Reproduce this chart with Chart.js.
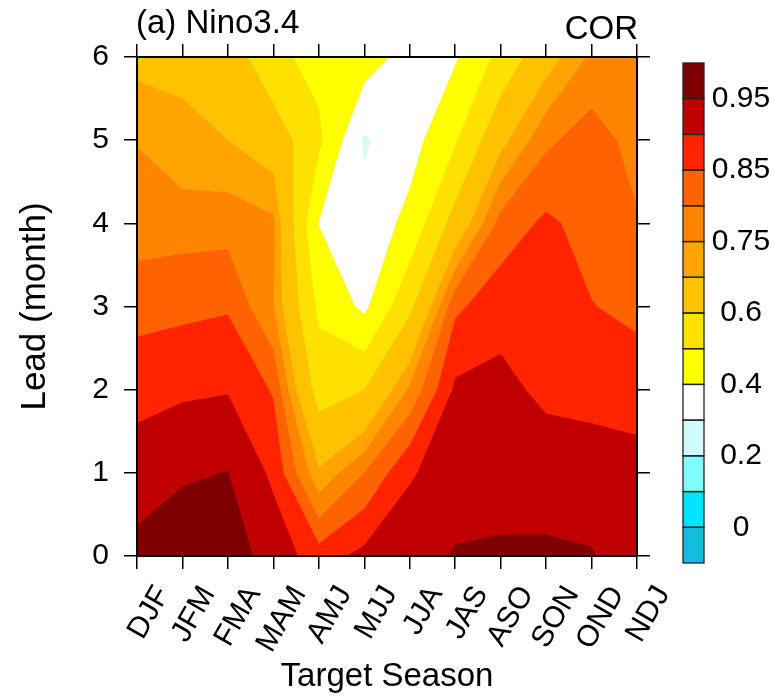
<!DOCTYPE html>
<html lang="en">
<head>
  <meta charset="UTF-8" />
  <title>Nino3.4 COR</title>
  <script src="https://cdn.jsdelivr.net/npm/chart.js"></script>
  <style>
    html, body { margin: 0; padding: 0; background: #fff; }
  </style>
</head>
<body>

<canvas id="corChart" width="784" height="697"></canvas>

<script>
  const seasons = ['DJF', 'JFM', 'FMA', 'MAM', 'AMJ', 'MJJ', 'JJA', 'JAS', 'ASO', 'SON', 'OND', 'NDJ'];
  const leads = [0, 1, 2, 3, 4, 5, 6];

  // correlation skill per target season, one row per lead month
  const corLead0 = [0.960, 0.975, 0.975, 0.930, 0.875, 0.915, 0.930, 0.954, 0.957, 0.957, 0.953, 0.930];
  const corLead1 = [0.933, 0.945, 0.951, 0.890, 0.710, 0.800, 0.895, 0.925, 0.930, 0.930, 0.925, 0.915];
  const corLead2 = [0.878, 0.892, 0.897, 0.845, 0.560, 0.600, 0.760, 0.910, 0.915, 0.888, 0.883, 0.882];
  const corLead3 = [0.834, 0.838, 0.845, 0.752, 0.480, 0.380, 0.580, 0.840, 0.880, 0.875, 0.852, 0.835];
  const corLead4 = [0.772, 0.778, 0.780, 0.760, 0.398, 0.330, 0.430, 0.640, 0.820, 0.860, 0.830, 0.805];
  const corLead5 = [0.748, 0.710, 0.700, 0.660, 0.520, 0.290, 0.360, 0.490, 0.680, 0.790, 0.825, 0.780];
  const corLead6 = [0.681, 0.690, 0.660, 0.524, 0.470, 0.450, 0.360, 0.390, 0.530, 0.670, 0.760, 0.770];

  const contourLevels = [0, 0.1, 0.2, 0.3, 0.4, 0.5, 0.6, 0.7, 0.75, 0.8, 0.85, 0.9, 0.95];
  const barLabels = ['0', '', '0.2', '', '0.4', '', '0.6', '', '0.75', '', '0.85', '', '0.95'];
  const fillColors = [
    '#12bcdc', '#00e3ff', '#80fdfd', '#d2fbfb', '#ffffff', '#ffff00', '#ffe100',
    '#ffc200', '#ffa400', '#ff8500', '#ff6200', '#ff2300', '#c00000', '#7e0000'
  ];

  const panelTitle = '(a) Nino3.4';
  const statName = 'COR';
  const FONT = "'Liberation Sans', Arial, Helvetica, sans-serif";

  const corRows = [corLead0, corLead1, corLead2, corLead3, corLead4, corLead5, corLead6];

  // part of a grid cell where value >= lv, cut along the cell edges
  // (points are [season, lead, value])
  function clipAbove(poly, lv) {
    const out = [];
    for (let n = 0; n < poly.length; n++) {
      const p = poly[n], q = poly[(n + 1) % poly.length];
      const pin = p[2] >= lv, qin = q[2] >= lv;
      if (pin) out.push(p);
      if (pin !== qin) {
        const t = (lv - p[2]) / (q[2] - p[2]);
        out.push([p[0] + t * (q[0] - p[0]), p[1] + t * (q[1] - p[1]), lv]);
      }
    }
    return out;
  }

  function gridCells() {
    const cells = [];
    for (let j = 0; j < leads.length - 1; j++) {
      for (let i = 0; i < seasons.length - 1; i++) {
        cells.push([
          [i, leads[j], corRows[j][i]],
          [i + 1, leads[j], corRows[j][i + 1]],
          [i + 1, leads[j + 1], corRows[j + 1][i + 1]],
          [i, leads[j + 1], corRows[j + 1][i]]
        ]);
      }
    }
    return cells;
  }

  const contourFill = {
    id: 'contourFill',
    beforeDatasetsDraw(chart) {
      const { ctx, chartArea: area, scales: { x, y } } = chart;
      const cells = gridCells();
      ctx.save();
      ctx.beginPath();
      ctx.rect(area.left, area.top, area.right - area.left, area.bottom - area.top);
      ctx.clip();
      ctx.fillStyle = fillColors[0];
      ctx.fillRect(area.left, area.top, area.right - area.left, area.bottom - area.top);
      contourLevels.forEach((lv, k) => {
        ctx.beginPath();
        cells.forEach(cell => {
          const poly = clipAbove(cell, lv);
          if (poly.length < 3) return;
          poly.forEach((p, n) => {
            const px = x.getPixelForValue(p[0]);
            const py = y.getPixelForValue(p[1]);
            if (n === 0) ctx.moveTo(px, py); else ctx.lineTo(px, py);
          });
          ctx.closePath();
        });
        ctx.fillStyle = fillColors[k + 1];
        ctx.fill();
      });
      ctx.restore();
    }
  };

  const labelBar = {
    id: 'labelBar',
    afterDraw(chart) {
      const { ctx, chartArea: area } = chart;
      const left = area.right + 46, width = 21;
      const top = area.top + 6, bottom = area.bottom + 7;
      const boxH = (bottom - top) / fillColors.length;
      ctx.save();
      fillColors.forEach((col, k) => {
        ctx.fillStyle = col;
        ctx.fillRect(left, bottom - (k + 1) * boxH, width, boxH);
      });
      ctx.strokeStyle = '#222';
      ctx.lineWidth = 1.3;
      fillColors.forEach((col, k) => {
        ctx.strokeRect(left, bottom - (k + 1) * boxH, width, boxH);
      });
      ctx.fillStyle = '#000';
      ctx.font = '30px ' + FONT;
      ctx.textAlign = 'center';
      ctx.textBaseline = 'middle';
      barLabels.forEach((txt, k) => {
        if (txt) ctx.fillText(txt, left + 58, bottom - (k + 1) * boxH);
      });

      // panel title and statistic name
      ctx.font = '33px ' + FONT;
      ctx.textBaseline = 'alphabetic';
      ctx.textAlign = 'left';
      ctx.fillText(panelTitle, area.left - 1, 33);
      ctx.textAlign = 'right';
      ctx.fillText(statName, area.right + 1, 39);
      ctx.restore();
    }
  };

  const axisLine = { display: true, color: '#000', width: 2, z: 1 };
  const tickMarks = { drawOnChartArea: false, tickLength: 13, color: '#000', lineWidth: 1.5 };

  new Chart(document.getElementById('corChart'), {
    type: 'scatter',
    data: { datasets: [] },
    options: {
      responsive: false,
      animation: false,
      layout: { padding: 0 },
      plugins: { legend: { display: false }, tooltip: { enabled: false } },
      scales: {
        x: {
          type: 'linear', position: 'bottom', min: 0, max: seasons.length - 1,
          afterFit: s => { s.height = 141; },
          ticks: {
            stepSize: 1, autoSkip: false, minRotation: 60, maxRotation: 60,
            padding: 11, labelOffset: 26, color: '#000',
            font: { family: FONT, size: 30 },
            callback: v => seasons[v]
          },
          grid: tickMarks,
          border: axisLine,
          title: { display: true, text: 'Target Season', color: '#000',
                   font: { family: FONT, size: 33 }, padding: { top: 0, bottom: 0 } }
        },
        x2: {
          type: 'linear', position: 'top', min: 0, max: seasons.length - 1,
          afterFit: s => { s.height = 57; },
          ticks: { stepSize: 1, display: false },
          grid: tickMarks,
          border: axisLine
        },
        y: {
          type: 'linear', position: 'left', min: leads[0], max: leads[leads.length - 1],
          afterFit: s => { s.width = 137; },
          ticks: { stepSize: 1, padding: 15, color: '#000', font: { family: FONT, size: 30 } },
          grid: tickMarks,
          border: axisLine,
          title: { display: true, text: 'Lead (month)', color: '#000',
                   font: { family: FONT, size: 35 }, padding: { top: 14, bottom: 0 } }
        },
        y2: {
          type: 'linear', position: 'right', min: leads[0], max: leads[leads.length - 1],
          afterFit: s => { s.width = 147; },
          ticks: { stepSize: 1, display: false },
          grid: tickMarks,
          border: axisLine
        }
      }
    },
    plugins: [contourFill, labelBar]
  });
</script>

</body>
</html>
